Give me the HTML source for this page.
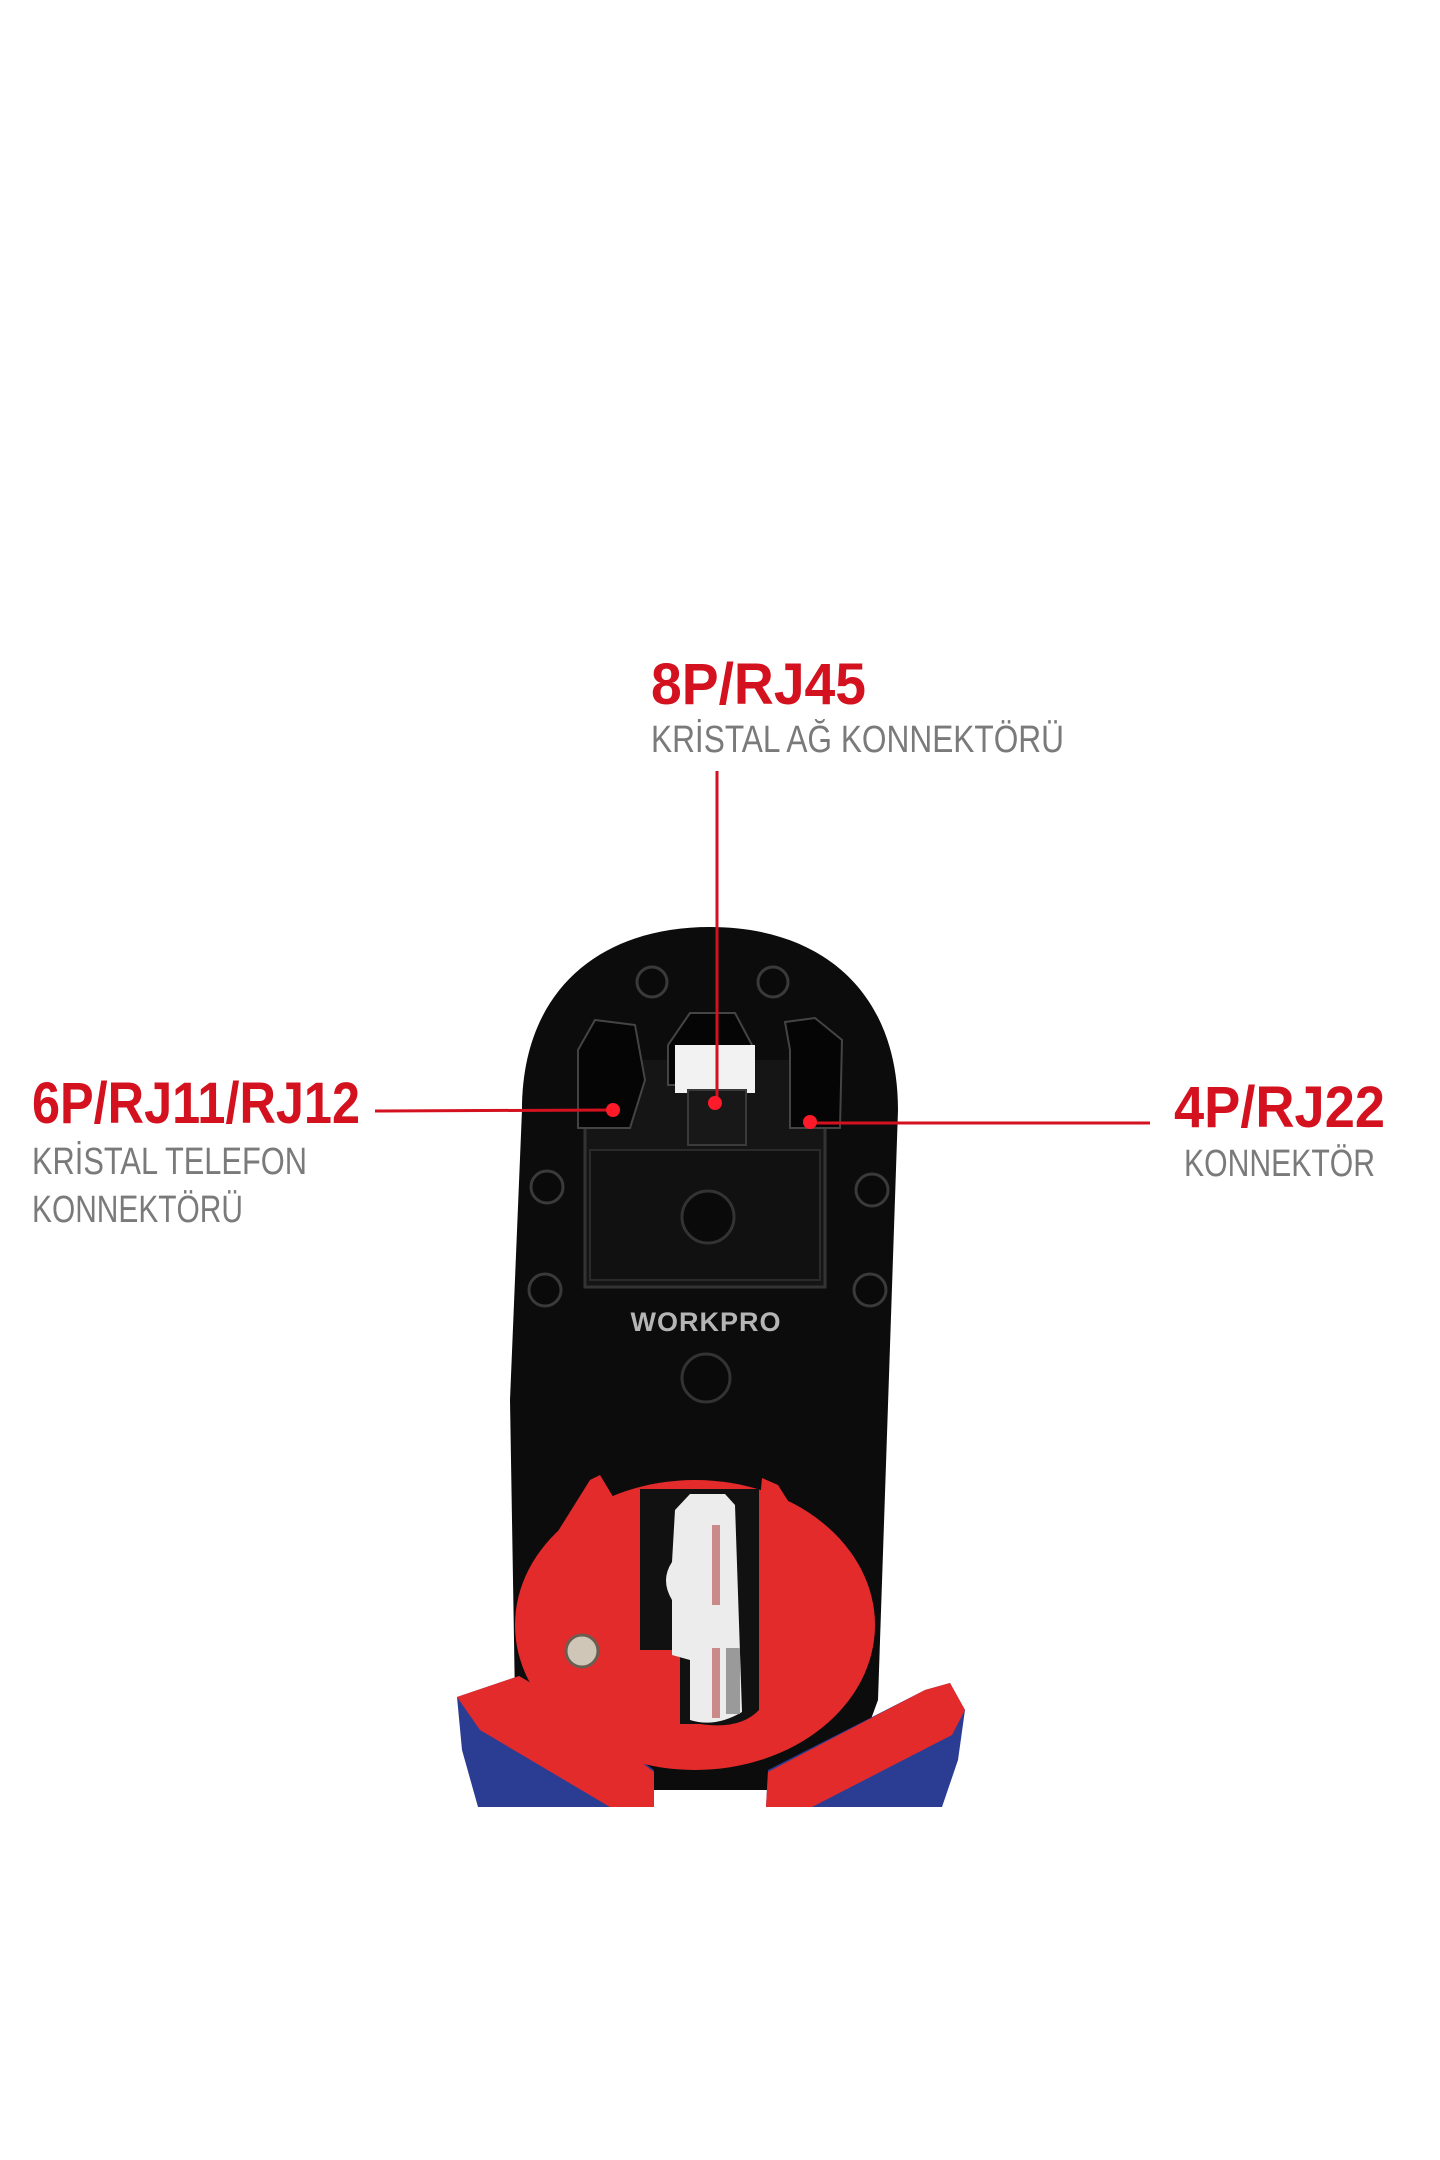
<!DOCTYPE html>
<html><head><meta charset="utf-8"><style>
html,body{margin:0;padding:0;background:#fff;}
svg{display:block}
.r{font-family:"Liberation Sans",sans-serif;font-weight:bold;fill:#d3111f;font-size:58px}
.g{font-family:"Liberation Sans",sans-serif;fill:#7a7a7a;font-size:38px}
</style></head><body>
<svg width="1440" height="2160" viewBox="0 0 1440 2160" xmlns="http://www.w3.org/2000/svg">
<rect width="1440" height="2160" fill="#fff"/>
<text class="r" x="651" y="704" textLength="215" lengthAdjust="spacingAndGlyphs">8P/RJ45</text>
<text class="g" x="651" y="752" textLength="413" lengthAdjust="spacingAndGlyphs">KRİSTAL AĞ KONNEKTÖRÜ</text>
<text class="r" x="32" y="1123" textLength="328" lengthAdjust="spacingAndGlyphs">6P/RJ11/RJ12</text>
<text class="g" x="32" y="1174" textLength="275" lengthAdjust="spacingAndGlyphs">KRİSTAL TELEFON</text>
<text class="g" x="32" y="1222" textLength="211" lengthAdjust="spacingAndGlyphs">KONNEKTÖRÜ</text>
<text class="r" x="1174" y="1127" textLength="211" lengthAdjust="spacingAndGlyphs">4P/RJ22</text>
<text class="g" x="1184" y="1176" textLength="191" lengthAdjust="spacingAndGlyphs">KONNEKTÖR</text>
<!-- body -->
<path d="M522,1110 C522,990 600,927 710,927 C820,927 898,990 898,1110 L878,1700 L845,1790 L560,1790 L515,1700 L510,1400 Z" fill="#0c0c0c"/>
<!-- handles -->
<polygon points="457,1697 519,1676 560,1700 654,1770 654,1807 478,1807 462,1750" fill="#2b3c93"/>
<polygon points="457,1697 519,1676 560,1700 654,1772 654,1807 610,1807 480,1730" fill="#e32b2b"/>
<polygon points="950,1683 965,1710 958,1760 942,1807 766,1807 768,1770 925,1690" fill="#2b3c93"/>
<polygon points="950,1683 965,1710 952,1735 812,1807 766,1807 768,1772 925,1690" fill="#e32b2b"/>
<!-- die plate -->
<path d="M585,1060 L585,1287 L825,1287 L825,1060" fill="#151515" stroke="#333" stroke-width="3"/>
<rect x="590" y="1150" width="230" height="130" fill="#111" stroke="#2a2a2a" stroke-width="2"/>
<path d="M578,1050 L578,1128 L630,1128 L645,1080 L635,1025 L595,1020 Z" fill="#050505" stroke="#444" stroke-width="2"/>
<path d="M790,1050 L790,1128 L840,1128 L842,1040 L815,1018 L785,1022 Z" fill="#050505" stroke="#444" stroke-width="2"/>
<path d="M668,1045 L668,1085 L752,1085 L752,1045 L735,1013 L690,1013 Z" fill="#050505" stroke="#444" stroke-width="2"/>
<rect x="675" y="1045" width="80" height="48" fill="#f2f2f2"/>
<rect x="688" y="1090" width="58" height="55" fill="#181818" stroke="#3a3a3a" stroke-width="2"/>
<circle cx="708" cy="1217" r="26" fill="#0a0a0a" stroke="#333" stroke-width="3"/>
<circle cx="706" cy="1378" r="24" fill="#0a0a0a" stroke="#333" stroke-width="3"/>
<g fill="#0a0a0a" stroke="#3a3a3a" stroke-width="3">
<circle cx="652" cy="982" r="15"/><circle cx="773" cy="982" r="15"/>
<circle cx="547" cy="1187" r="16"/><circle cx="872" cy="1190" r="16"/>
<circle cx="545" cy="1290" r="16"/><circle cx="870" cy="1290" r="16"/>
</g>
<text x="706" y="1331" text-anchor="middle" font-family="Liberation Sans,sans-serif" font-weight="bold" font-size="27" fill="#b5b5b5" letter-spacing="1">WORKPRO</text>
<!-- red cutter -->
<ellipse cx="695" cy="1625" rx="180" ry="145" fill="#e32b2b"/>
<polygon points="540,1560 590,1480 600,1475 615,1500 640,1500 640,1560" fill="#e32b2b"/>
<polygon points="760,1500 762,1478 778,1485 800,1520 850,1570 760,1570" fill="#e32b2b"/>
<path d="M640,1489 L759,1489 L759,1710 Q740,1730 700,1724 L680,1724 L680,1650 L640,1650 Z" fill="#111"/>
<path d="M690,1494 L725,1494 L735,1505 L742,1712 Q715,1728 690,1720 L690,1660 L672,1655 L672,1600 Q660,1580 672,1562 L675,1510 Z" fill="#ececec"/>
<rect x="712" y="1525" width="8" height="80" fill="#c98a8a"/>
<rect x="712" y="1648" width="8" height="70" fill="#c98a8a"/>
<rect x="726" y="1648" width="14" height="66" fill="#9a9a9a"/>
<circle cx="582" cy="1651" r="16" fill="#cfc6b8" stroke="#6b5e50" stroke-width="3"/>
<!-- connectors -->
<g stroke="#d3111f" stroke-width="3">
<line x1="717" y1="771" x2="717" y2="1103"/>
<line x1="375" y1="1111" x2="613" y2="1110"/>
<line x1="810" y1="1123" x2="1150" y2="1123"/>
</g>
<g fill="#ff1a2a">
<circle cx="613" cy="1110" r="7"/><circle cx="715" cy="1103" r="7"/><circle cx="810" cy="1122" r="7"/>
</g>
</svg>
</body></html>
